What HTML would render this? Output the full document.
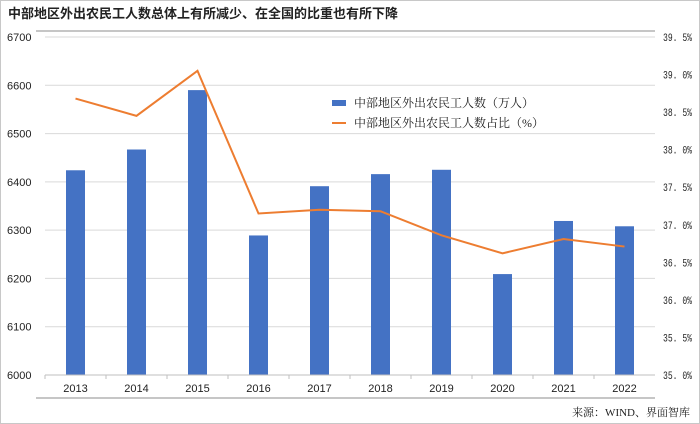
<!DOCTYPE html>
<html><head><meta charset="utf-8"><style>
body{margin:0;background:#fff;}
#wrap{position:relative;width:700px;height:424px;overflow:hidden;font-family:"Liberation Sans","Noto Sans CJK SC",sans-serif;}
</style></head><body>
<div id="wrap">
<svg id="chart" width="700" height="424">
<rect x="0.5" y="0.5" width="699" height="423" fill="#fff" stroke="#c8c8c8"/>
<text x="8" y="18" font-size="13" font-weight="bold" fill="#222" font-family="'Liberation Sans','Noto Sans CJK SC',sans-serif">中部地区外出农民工人数总体上有所减少、在全国的比重也有所下降</text>
<line x1="36" y1="31" x2="655" y2="31" stroke="#b4b4b4" stroke-width="1.5"/>
<line x1="36" y1="398" x2="655" y2="398" stroke="#b4b4b4" stroke-width="1.5"/>
<g id="grid"></g><g id="bars"></g><g id="line"></g><g id="axes"></g>
<g>
<rect x="332" y="100" width="14" height="6" fill="#4472c4"/>
<text x="354" y="107" font-size="12" fill="#222" font-family="'Liberation Serif','Noto Serif CJK SC',serif">中部地区外出农民工人数（万人）</text>
<line x1="332" y1="123" x2="346" y2="123" stroke="#ed7d31" stroke-width="2"/>
<text x="354" y="127" font-size="12" fill="#222" font-family="'Liberation Serif','Noto Serif CJK SC',serif">中部地区外出农民工人数占比（%）</text>
</g>
<text x="690" y="416" font-size="11" text-anchor="end" fill="#222" font-family="'Liberation Serif','Noto Serif CJK SC',serif">来源：WIND、界面智库</text>
</svg>
</div>
<script>
const categories=["2013","2014","2015","2016","2017","2018","2019","2020","2021","2022"];
const workers=[6424,6467,6590,6289,6391,6416,6425,6209,6319,6308];
const shares=[38.68,38.45,39.05,37.15,37.20,37.18,36.86,36.62,36.81,36.71];
const leftTicks=[6000,6100,6200,6300,6400,6500,6600,6700];
const rightTicks=[35.0,35.5,36.0,36.5,37.0,37.5,38.0,38.5,39.0,39.5];
const NS="http://www.w3.org/2000/svg";
const X0=45,X1=655,Y0=375,Y1=37;
const bw=(X1-X0)/categories.length;
function xC(i){return X0+bw*(i+0.5);}
function yL(v){return Y0-(v-6000)/700*(Y0-Y1);}
function yR(v){return Y0-(v-35)/4.5*(Y0-Y1);}
function mk(t,a,p){const e=document.createElementNS(NS,t);for(const k in a)e.setAttribute(k,a[k]);p.appendChild(e);return e;}
const grid=document.getElementById('grid'),bars=document.getElementById('bars'),line=document.getElementById('line'),axes=document.getElementById('axes');
leftTicks.forEach(v=>{
  const y=yL(v);
  if(v>6000){const g=mk('line',{x1:X0,x2:X1,y1:y,y2:y,stroke:'#d9d9d9','stroke-width':1},grid);
  
  }
  const t=mk('text',{x:7,y:y+4,'font-size':11,fill:'#222'},axes);t.textContent=v;
  
  
});
rightTicks.forEach(v=>{
  const t=mk('text',{x:663,y:yR(v)+4,'font-size':11,fill:'#222','font-family':"'Liberation Mono',monospace",textLength:29,lengthAdjust:'spacingAndGlyphs'},axes);
  t.textContent=v.toFixed(1).replace('.','. ')+'%';
  
  
});
const ax=mk('line',{x1:X0,x2:X1,y1:Y0,y2:Y0,stroke:'#bfbfbf'},axes);


categories.forEach((c,i)=>{
  const tk=mk('line',{x1:X0+bw*i,x2:X0+bw*i,y1:Y0,y2:Y0+4,stroke:'#bfbfbf'},axes);
  
  
  const r=mk('rect',{x:xC(i)-9.5,y:yL(workers[i]),width:19,height:Y0-yL(workers[i]),fill:'#4472c4'},bars);
  
  
  const t=mk('text',{x:xC(i),y:Y0+17,'font-size':11,'text-anchor':'middle',fill:'#222'},axes);t.textContent=c;
  
  
});
const pl=mk('polyline',{points:shares.map((v,i)=>xC(i)+','+yR(v)).join(' '),fill:'none',stroke:'#ed7d31','stroke-width':2},line);


</script>
</body></html>
